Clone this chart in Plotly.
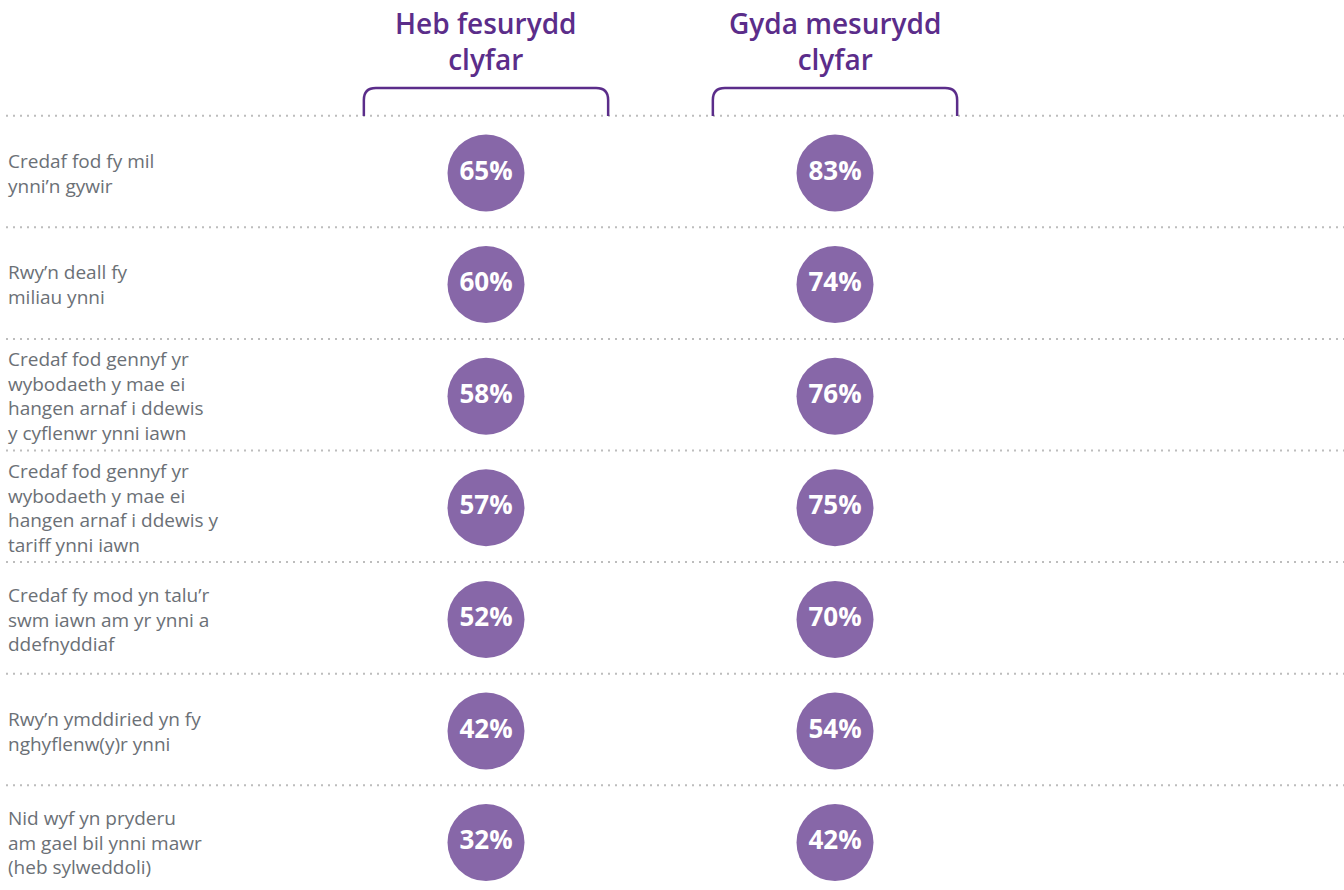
import plotly.graph_objects as go

columns = ["Heb fesurydd<br>clyfar", "Gyda mesurydd<br>clyfar"]
statements = [
    "Credaf fod fy mil<br>ynni’n gywir",
    "Rwy’n deall fy<br>miliau ynni",
    "Credaf fod gennyf yr<br>wybodaeth y mae ei<br>hangen arnaf i ddewis<br>y cyflenwr ynni iawn",
    "Credaf fod gennyf yr<br>wybodaeth y mae ei<br>hangen arnaf i ddewis y<br>tariff ynni iawn",
    "Credaf fy mod yn talu’r<br>swm iawn am yr ynni a<br>ddefnyddiaf",
    "Rwy’n ymddiried yn fy<br>nghyflenw(y)r ynni",
    "Nid wyf yn pryderu<br>am gael bil ynni mawr<br>(heb sylweddoli)",
]
without_meter = [65, 60, 58, 57, 52, 42, 32]
with_meter = [83, 74, 76, 75, 70, 54, 42]

W, H = 1344, 890
PURPLE = "#5b2d8a"
CIRCLE = "#8767a8"
GRAY_TXT = "#6b7076"
DOT = "#bdbdbd"

col_px = [486, 835]
row0_px, row_step = 173, 111.6
xunit = col_px[1] - col_px[0]
x_range = [-col_px[0] / xunit, (W - col_px[0]) / xunit]
y_range = [(H - row0_px) / row_step, -row0_px / row_step]

fig = go.Figure()
rows = list(range(len(statements)))
for ci, vals in enumerate([without_meter, with_meter]):
    fig.add_trace(go.Scatter(
        x=[ci] * len(vals), y=rows, mode="markers+text",
        marker=dict(size=77, color=CIRCLE, line=dict(width=0)),
        text=[f"{v}%" for v in vals], textposition="middle center",
        textfont=dict(color="white", size=26, family="Open Sans", weight=700),
        hoverinfo="skip", showlegend=False,
    ))

shapes = []
for r in range(len(statements)):
    shapes.append(dict(type="line", xref="paper", yref="y", x0=6 / W, x1=1,
                       y0=r - 0.5 - 1.5 / row_step, y1=r - 0.5 - 1.5 / row_step,
                       line=dict(color=DOT, width=2, dash="2px,5px")))
hw = 0.35
ytop = (88 - row0_px) / row_step
ybot = (116 - row0_px) / row_step
rx = 12 / xunit
ry = 12 / row_step
for ci in range(len(columns)):
    xl, xr = ci - hw, ci + hw
    path = (f"M {xl},{ybot} L {xl},{ytop + ry} Q {xl},{ytop} {xl + rx},{ytop} "
            f"L {xr - rx},{ytop} Q {xr},{ytop} {xr},{ytop + ry} L {xr},{ybot}")
    shapes.append(dict(type="path", xref="x", yref="y", path=path,
                       line=dict(color=PURPLE, width=2.5)))

annotations = []
for ci, c in enumerate(columns):
    annotations.append(dict(x=ci, y=(41 - row0_px) / row_step, xref="x", yref="y", text=c,
                            showarrow=False, xanchor="center", yanchor="middle", align="center",
                            font=dict(family="Open Sans", size=28, color=PURPLE, weight=600)))
for r, s in enumerate(statements):
    annotations.append(dict(x=6 / W, y=r, xref="paper", yref="y", text=s, showarrow=False,
                            xanchor="left", yanchor="middle", align="left",
                            font=dict(family="Open Sans", size=19, color=GRAY_TXT)))

fig.update_layout(
    width=W, height=H, margin=dict(l=0, r=0, t=0, b=0),
    paper_bgcolor="white", plot_bgcolor="white",
    xaxis=dict(range=x_range, visible=False, fixedrange=True),
    yaxis=dict(range=y_range, visible=False, fixedrange=True),
    shapes=shapes, annotations=annotations,
)
fig.write_html("out.html", config={"displayModeBar": False},
               post_script="document.body.style.margin='0';")
